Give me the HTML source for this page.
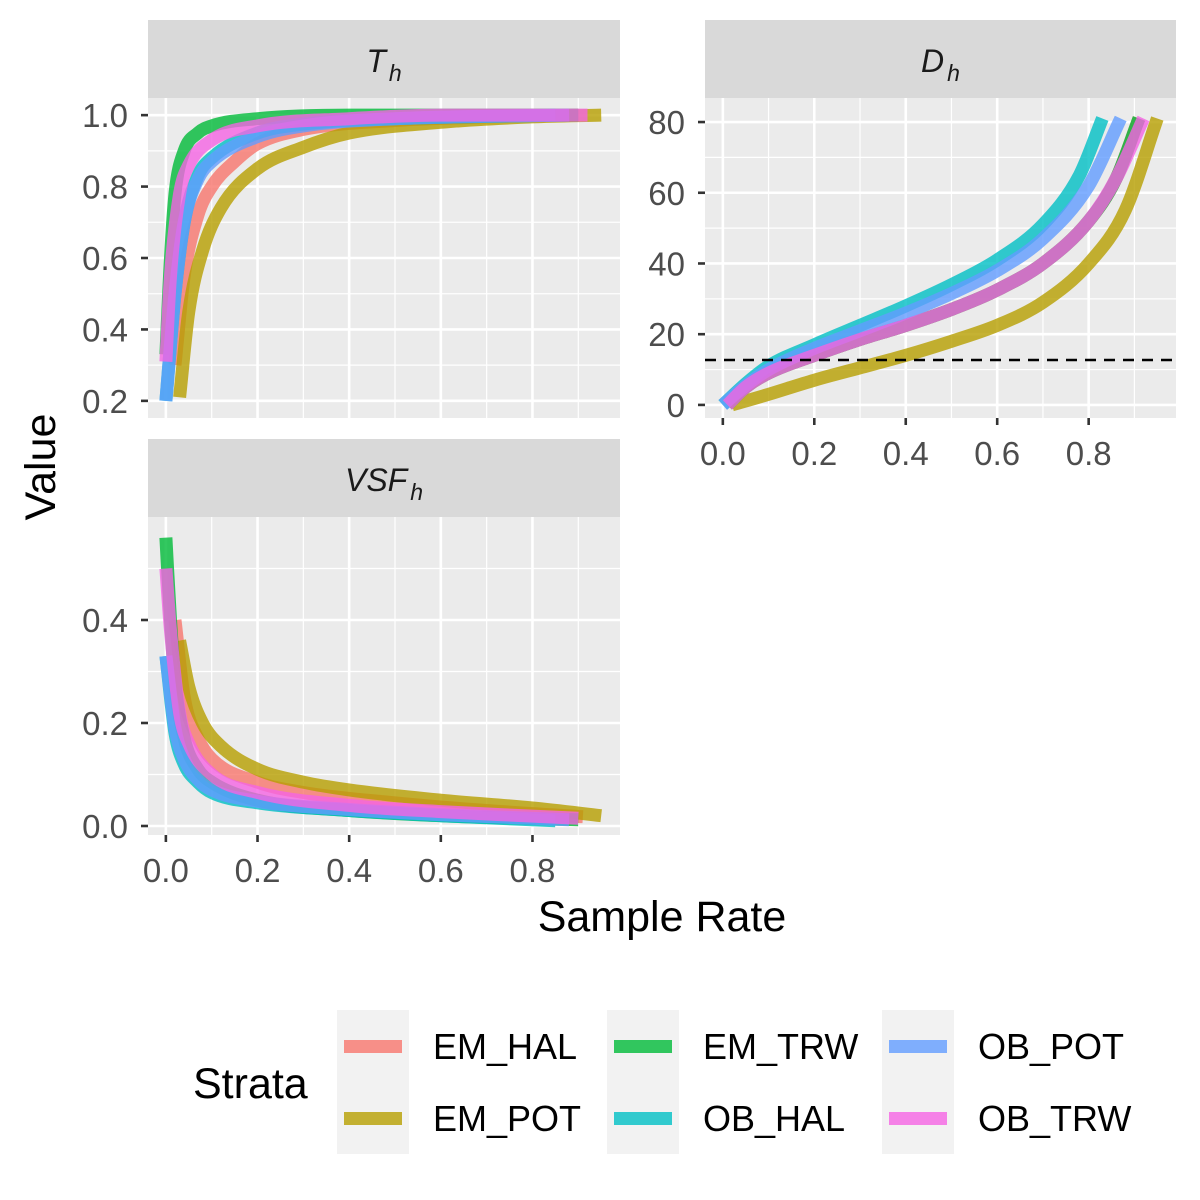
<!DOCTYPE html>
<html><head><meta charset="utf-8"><style>
html,body{margin:0;padding:0;background:#fff;}
svg{display:block;font-family:"Liberation Sans",Arial,sans-serif;}
</style></head><body>
<svg id="chart" width="1200" height="1200" viewBox="0 0 1200 1200"></svg>
<script>
const seriesNames = ["EM_HAL","EM_POT","EM_TRW","OB_HAL","OB_POT","OB_TRW"];
const seriesColors = ["#F8766D","#B79F00","#00BA38","#00BFC4","#619CFF","#F564E3"];
// T_h data
const thX = [
 [0.02,0.04,0.07,0.1,0.15,0.2,0.3,0.5,0.7,0.9],
 [0.03,0.05,0.08,0.12,0.2,0.3,0.4,0.6,0.8,0.95],
 [0.0,0.01,0.02,0.04,0.07,0.1,0.2,0.4,0.9],
 [0.0,0.02,0.04,0.07,0.1,0.2,0.3,0.5,0.85],
 [0.0,0.02,0.04,0.07,0.1,0.2,0.3,0.5,0.88],
 [0.0,0.01,0.03,0.05,0.1,0.2,0.4,0.6,0.92]];
const thY = [
 [0.3,0.55,0.72,0.8,0.87,0.92,0.96,0.985,0.995,1.0],
 [0.21,0.45,0.62,0.74,0.85,0.91,0.95,0.98,0.995,1.0],
 [0.33,0.6,0.78,0.9,0.95,0.97,0.99,1.0,1.0],
 [0.2,0.5,0.7,0.83,0.88,0.95,0.975,0.99,1.0],
 [0.2,0.5,0.7,0.82,0.87,0.94,0.97,0.99,1.0],
 [0.31,0.55,0.78,0.86,0.93,0.97,0.99,1.0,1.0]];
// D_h data
const dhX = [
 [0.01,0.05,0.1,0.2,0.3,0.4,0.5,0.6,0.7,0.8,0.86,0.91],
 [0.02,0.1,0.2,0.3,0.4,0.5,0.6,0.7,0.8,0.88,0.95],
 [0.01,0.05,0.1,0.2,0.3,0.4,0.5,0.6,0.7,0.8,0.86,0.91],
 [0.0,0.05,0.1,0.2,0.3,0.4,0.5,0.6,0.7,0.78,0.83],
 [0.0,0.05,0.1,0.2,0.3,0.4,0.5,0.6,0.7,0.8,0.87],
 [0.01,0.05,0.1,0.2,0.3,0.4,0.5,0.6,0.7,0.8,0.86,0.92]];
const dhY = [
 [0,5,9,14,18.5,22.5,27,32.5,40,52,64,81],
 [0,3,7,10.5,14,18,22.5,29,40,55,81],
 [0,5,9,14,18.5,22.5,27,32.5,40,52,64,81],
 [0,6,11,17,22.5,28,34,41,51,65,81],
 [0,5.5,10,16,21,26,31.5,38,47,62,81],
 [0,5,9,14,18.5,22.5,27,32.5,40,52,64,81]];
const dhRef = [12.7];
// VSF_h data
const vsX = [
 [0.02,0.04,0.07,0.1,0.2,0.3,0.5,0.7,0.91],
 [0.03,0.05,0.08,0.12,0.2,0.3,0.4,0.6,0.8,0.95],
 [0.0,0.01,0.02,0.04,0.07,0.1,0.2,0.4,0.6,0.9],
 [0.0,0.02,0.04,0.07,0.1,0.2,0.4,0.6,0.85],
 [0.0,0.02,0.04,0.07,0.1,0.2,0.4,0.6,0.88],
 [0.0,0.01,0.03,0.05,0.1,0.2,0.4,0.6,0.9]];
const vsY = [
 [0.4,0.25,0.17,0.13,0.085,0.065,0.045,0.03,0.018],
 [0.36,0.27,0.2,0.155,0.11,0.085,0.07,0.05,0.035,0.02],
 [0.56,0.4,0.28,0.17,0.11,0.085,0.05,0.03,0.02,0.012],
 [0.33,0.18,0.12,0.085,0.065,0.045,0.03,0.02,0.01],
 [0.33,0.19,0.13,0.09,0.07,0.048,0.032,0.022,0.012],
 [0.5,0.38,0.22,0.16,0.1,0.065,0.04,0.028,0.015]];
const xTicks = [0,0.2,0.4,0.6,0.8];
const xTickLabels = ["0.0","0.2","0.4","0.6","0.8"];
const thTicks = [0.2,0.4,0.6,0.8,1.0];
const thTickLabels = ["0.2","0.4","0.6","0.8","1.0"];
const dhTicks = [0,20,40,60,80];
const dhTickLabels = ["0","20","40","60","80"];
const vsTicks = [0,0.2,0.4];
const vsTickLabels = ["0.0","0.2","0.4"];

const NS="http://www.w3.org/2000/svg";
const svg=document.getElementById('chart');
function mk(tag,attrs,parent){const e=document.createElementNS(NS,tag);for(const k in attrs)e.setAttribute(k,attrs[k]);(parent||svg).appendChild(e);return e;}

// monotone cubic path through points
function smoothPath(pts){
  const n=pts.length;
  if(n<3)return pts.map((p,i)=>(i?'L':'M')+p[0].toFixed(1)+','+p[1].toFixed(1)).join(' ');
  const dx=[],dy=[],m=[];
  for(let i=0;i<n-1;i++){dx.push(pts[i+1][0]-pts[i][0]);dy.push(pts[i+1][1]-pts[i][1]);m.push(dx[i]===0?0:dy[i]/dx[i]);}
  const t=[m[0]];
  for(let i=1;i<n-1;i++){t.push(m[i-1]*m[i]<=0?0:(m[i-1]+m[i])/2);}
  t.push(m[n-2]);
  for(let i=0;i<n-1;i++){if(m[i]===0){t[i]=0;t[i+1]=0;continue;}
    const a=t[i]/m[i],b=t[i+1]/m[i],s=a*a+b*b;if(s>9){const k=3/Math.sqrt(s);t[i]=k*a*m[i];t[i+1]=k*b*m[i];}}
  let d='M'+pts[0][0].toFixed(1)+','+pts[0][1].toFixed(1);
  for(let i=0;i<n-1;i++){const h=dx[i]/3;
    d+=' C'+(pts[i][0]+h).toFixed(1)+','+(pts[i][1]+t[i]*h).toFixed(1)+' '+(pts[i+1][0]-h).toFixed(1)+','+(pts[i+1][1]-t[i+1]*h).toFixed(1)+' '+pts[i+1][0].toFixed(1)+','+pts[i+1][1].toFixed(1);}
  return d;
}

function panel(key,px,py,pw,ph,xmin,xmax,ymin,ymax,yt,ytl,yminor,xs,ys,stripMain,stripSub,showX){
  const g=mk('g',{});
  
  
  const sx=v=>px+(v-xmin)/(xmax-xmin)*pw;
  const sy=v=>py+ph-(v-ymin)/(ymax-ymin)*ph;
  const strip=mk('rect',{x:px,y:py-78,width:pw,height:78,fill:'#d9d9d9'},g);
  
  
  const st=mk('text',{x:px+pw/2,y:py-26,'text-anchor':'middle','font-size':32,'font-style':'italic',fill:'#1a1a1a'},g);
  
  
  st.textContent=stripMain;
  const sub=mk('tspan',{'font-size':23,dy:9,dx:3},st);sub.textContent=stripSub;
  const bg=mk('rect',{x:px,y:py,width:pw,height:ph,fill:'#ebebeb'},g);
  
  
  const grid=mk('g',{stroke:'#fff'},g);
  
  
  yminor.forEach(v=>{if(v>ymin&&v<ymax)mk('line',{x1:px,x2:px+pw,y1:sy(v),y2:sy(v),'stroke-width':1.2},grid);});
  [0.1,0.3,0.5,0.7,0.9].forEach(v=>mk('line',{x1:sx(v),x2:sx(v),y1:py,y2:py+ph,'stroke-width':1.2},grid));
  yt.forEach(v=>mk('line',{x1:px,x2:px+pw,y1:sy(v),y2:sy(v),'stroke-width':2.6},grid));
  xTicks.forEach(v=>mk('line',{x1:sx(v),x2:sx(v),y1:py,y2:py+ph,'stroke-width':2.6},grid));
  const ax=mk('g',{},g);
  
  
  yt.forEach((v,i)=>{mk('line',{x1:px-7,x2:px,y1:sy(v),y2:sy(v),stroke:'#333','stroke-width':2.6},ax);
    const t=mk('text',{x:px-20,y:sy(v)+12,'text-anchor':'end','font-size':33,fill:'#4d4d4d'},ax);t.textContent=ytl[i];});
  if(showX){
    const xa=mk('g',{},g);
    
    
    xTicks.forEach((v,i)=>{mk('line',{x1:sx(v),x2:sx(v),y1:py+ph,y2:py+ph+7,stroke:'#333','stroke-width':2.6},xa);
      const t=mk('text',{x:sx(v),y:py+ph+47,'text-anchor':'middle','font-size':33,fill:'#4d4d4d'},xa);t.textContent=xTickLabels[i];});
  }
  const lines=mk('g',{fill:'none','stroke-width':13,'stroke-linejoin':'round','stroke-opacity':0.8},g);
  xs.forEach((arr,si)=>{
    const pts=arr.map((x,j)=>[sx(x),sy(ys[si][j])]);
    const p=mk('path',{d:smoothPath(pts),stroke:seriesColors[si]},lines);
    
    
  });
  return {sx,sy,g};
}

const xmin=-0.039,xmax=0.991;
panel('th',148,98,472,320,xmin,xmax,0.152,1.048,thTicks,thTickLabels,[0.3,0.5,0.7,0.9],thX,thY,'T','h',false);
const D=panel('dh',705,98,471,320,xmin,xmax,-3.7,86.8,dhTicks,dhTickLabels,[10,30,50,70],dhX,dhY,'D','h',true);
dhRef.forEach(v=>{const l=mk('line',{x1:705,x2:1176,y1:D.sy(v),y2:D.sy(v),stroke:'#000','stroke-width':2.6,'stroke-dasharray':'11,8'},D.g);
  
  });
panel('vsf',148,517,472,318,xmin,xmax,-0.0175,0.6,vsTicks,vsTickLabels,[0.1,0.3,0.5],vsX,vsY,'VSF','h',true);

// axis titles
const xt=mk('text',{x:662,y:931,'text-anchor':'middle','font-size':43,fill:'#000'});


xt.textContent='Sample Rate';
const yt=mk('text',{x:0,y:0,'text-anchor':'middle','font-size':43,fill:'#000',transform:'translate(55,467) rotate(-90)'});


yt.textContent='Value';

// legend
const lg=mk('g',{});


const lt=mk('text',{x:193,y:1098,'font-size':43,fill:'#000'},lg);


lt.textContent='Strata';
const colX=[337,607,882];
seriesNames.forEach((n,i)=>{
  const c=Math.floor(i/2),r=i%2;
  const bx=colX[c],by=1010+r*72;
  const e=mk('g',{},lg);
  
  
  mk('rect',{x:bx,y:by,width:72,height:72,fill:'#f2f2f2'},e);
  mk('rect',{x:bx+7,y:by+30,width:58,height:13,fill:seriesColors[i],'fill-opacity':0.8},e);
  const t=mk('text',{x:bx+96,y:by+49,'font-size':36,fill:'#000'},e);t.textContent=n;
});
</script>
</body></html>
